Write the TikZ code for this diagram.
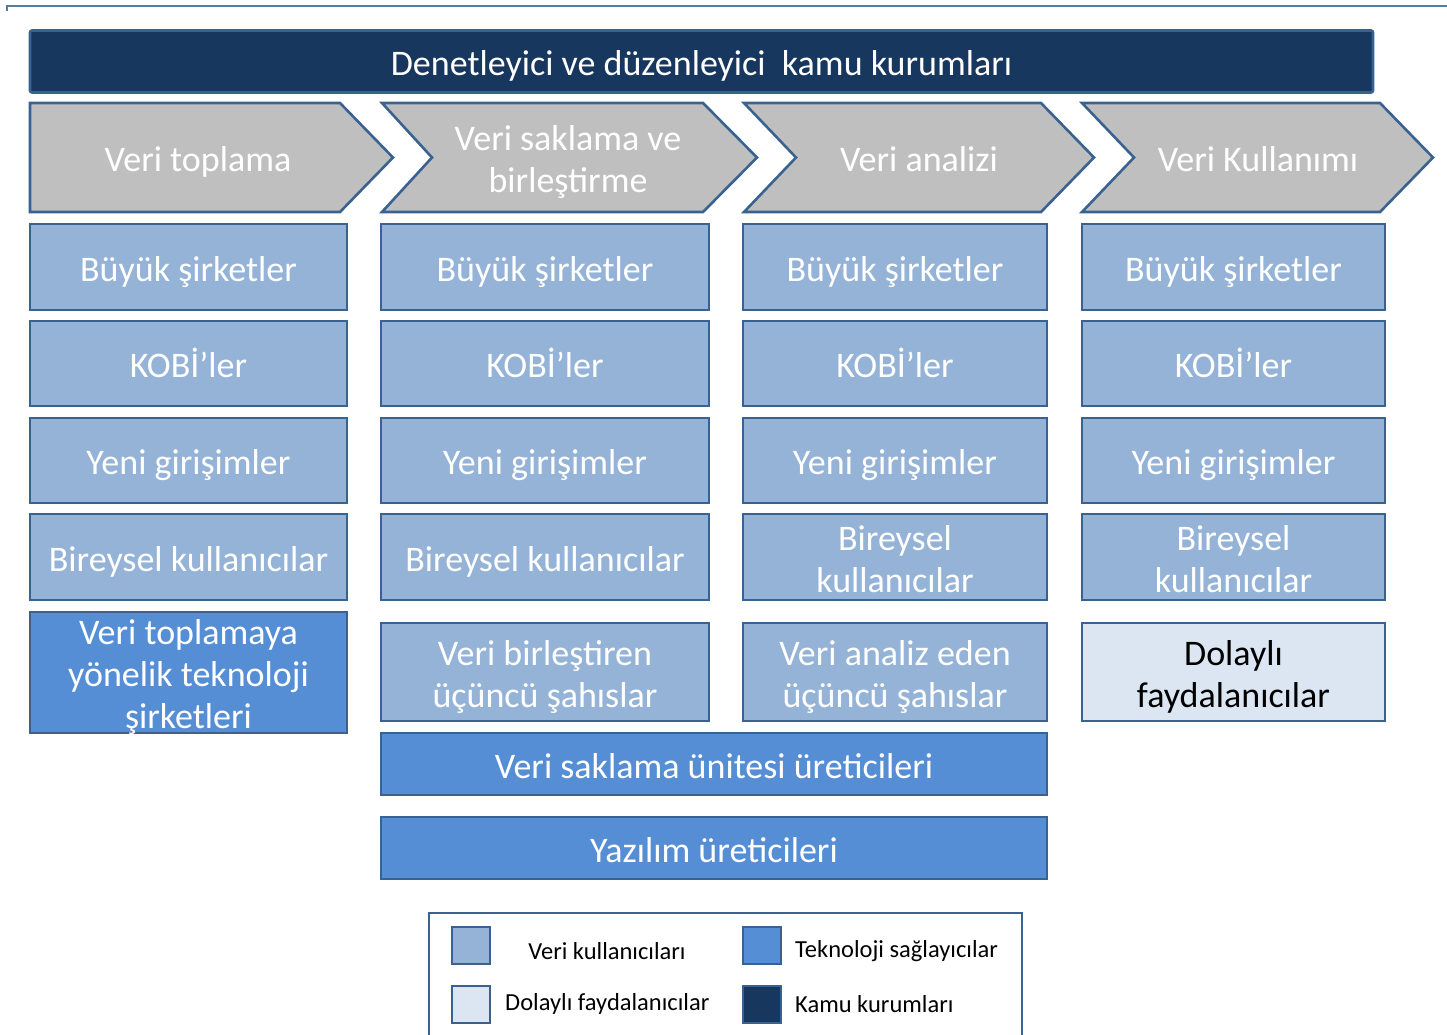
\documentclass[tikz,border=0pt]{standalone}
\usepackage{fontspec}
\setmainfont{Carlito}
\definecolor{navy}{HTML}{17375E}
\definecolor{chevgray}{HTML}{BFBFBF}
\definecolor{userblue}{HTML}{95B3D7}
\definecolor{techblue}{HTML}{558ED5}
\definecolor{palebl}{HTML}{DCE6F2}
\definecolor{bord}{HTML}{3A6291}
\begin{document}
\begin{tikzpicture}[x=1pt,y=-1pt,
  bigtext/.style={font=\fontsize{36}{42}\selectfont, align=center, inner sep=0pt, text height=32pt, text depth=4pt},
  twolines/.style={text height=74pt},
  threelines/.style={text height=116pt},
  box/.style={bigtext, draw=bord, line width=2.6pt, fill=userblue, text=white},
  techbox/.style={box, fill=techblue},
  indbox/.style={box, fill=palebl, text=black},
  chev/.style={draw=bord, line width=2.6pt, fill=chevgray},
  chevtext/.style={bigtext, text=white},
  swatch/.style={draw=bord, line width=2.6pt, minimum width=38pt, minimum height=37pt, inner sep=0pt},
  legtext/.style={font=\fontsize{24.5}{29}\selectfont, inner sep=0pt, text=black},
]
\useasboundingbox (0,0) rectangle (1447,1034);

% top rule
\draw[bord!85, line width=2.6pt] (7,11) -- (7,6) -- (1447,6);

% title bar
\node[box, fill=navy, rounded corners=2pt, minimum width=1343pt, minimum height=62pt] (title) at (701.5,61.5) {Denetleyici ve düzenleyici\ \ kamu kurumları};

% chevrons
\draw[chev] (30,103) -- (340,103) -- (393,157.5) -- (340,212) -- (30,212) -- cycle;
\draw[chev] (382,103) -- (703,103) -- (757,157.5) -- (703,212) -- (382,212) -- (432,157.5) -- cycle;
\draw[chev] (744,103) -- (1041,103) -- (1094,157.5) -- (1041,212) -- (744,212) -- (796,157.5) -- cycle;
\draw[chev] (1082,103) -- (1380,103) -- (1433,157.5) -- (1380,212) -- (1082,212) -- (1134,157.5) -- cycle;
\node[chevtext] (ch1) at (198,157.5) {Veri toplama};
\node[chevtext, twolines] (ch2) at (568,157.5) {Veri saklama ve\\birleştirme};
\node[chevtext] (ch3) at (919,157.5) {Veri analizi};
\node[chevtext] (ch4) at (1258,157.5) {Veri Kullanımı};

% column 1
\node[box, minimum width=317pt, minimum height=86pt] (a1) at (188.5,267) {Büyük şirketler};
\node[box, minimum width=317pt, minimum height=85pt] (a2) at (188.5,363.5) {KOBİ’ler};
\node[box, minimum width=317pt, minimum height=85pt] (a3) at (188.5,460.5) {Yeni girişimler};
\node[box, minimum width=317pt, minimum height=86pt] (a4) at (188.5,557) {Bireysel kullanıcılar};
\node[techbox, minimum width=317pt, minimum height=121pt] (a5) at (188.5,672.5) {};
\node[chevtext, threelines] (a5t) at (188.5,672.5) {Veri toplamaya\\yönelik teknoloji\\şirketleri};

% column 2
\node[box, minimum width=328pt, minimum height=86pt] (b1) at (545,267) {Büyük şirketler};
\node[box, minimum width=328pt, minimum height=85pt] (b2) at (545,363.5) {KOBİ’ler};
\node[box, minimum width=328pt, minimum height=85pt] (b3) at (545,460.5) {Yeni girişimler};
\node[box, minimum width=328pt, minimum height=86pt] (b4) at (545,557) {Bireysel kullanıcılar};
\node[box, twolines, minimum width=328pt, minimum height=98pt] (b5) at (545,672) {Veri birleştiren\\üçüncü şahıslar};

% column 3
\node[box, minimum width=304pt, minimum height=86pt] (c1) at (895,267) {Büyük şirketler};
\node[box, minimum width=304pt, minimum height=85pt] (c2) at (895,363.5) {KOBİ’ler};
\node[box, minimum width=304pt, minimum height=85pt] (c3) at (895,460.5) {Yeni girişimler};
\node[box, twolines, minimum width=304pt, minimum height=86pt] (c4) at (895,557) {Bireysel\\kullanıcılar};
\node[box, twolines, minimum width=304pt, minimum height=98pt] (c5) at (895,672) {Veri analiz eden\\üçüncü şahıslar};

% column 4
\node[box, minimum width=303pt, minimum height=86pt] (d1) at (1233.5,267) {Büyük şirketler};
\node[box, minimum width=303pt, minimum height=85pt] (d2) at (1233.5,363.5) {KOBİ’ler};
\node[box, minimum width=303pt, minimum height=85pt] (d3) at (1233.5,460.5) {Yeni girişimler};
\node[box, twolines, minimum width=303pt, minimum height=86pt] (d4) at (1233.5,557) {Bireysel\\kullanıcılar};
\node[indbox, twolines, minimum width=303pt, minimum height=98pt] (d5) at (1233.5,672) {Dolaylı\\faydalanıcılar};

% wide boxes
\node[techbox, minimum width=666pt, minimum height=62pt] (w1) at (714,764) {Veri saklama ünitesi üreticileri};
\node[techbox, minimum width=666pt, minimum height=62pt] (w2) at (714,848) {Yazılım üreticileri};

% legend
\draw[bord, line width=2.6pt] (429,1040) -- (429,913) -- (1022,913) -- (1022,1040);
\node[swatch, fill=userblue] (s1) at (471,945.5) {};
\node[swatch, fill=techblue] (s2) at (762,945.5) {};
\node[swatch, fill=palebl] (s3) at (471,1004.5) {};
\node[swatch, fill=navy] (s4) at (762,1004.5) {};
\node[legtext] (l1) at (607,951) {Veri kullanıcıları};
\node[legtext, anchor=west] (l2) at (795,951) {Teknoloji sağlayıcılar};
\node[legtext, anchor=west] (l3) at (505,1004) {Dolaylı faydalanıcılar};
\node[legtext, anchor=west] (l4) at (795,1004) {Kamu kurumları};
\end{tikzpicture}
\end{document}
